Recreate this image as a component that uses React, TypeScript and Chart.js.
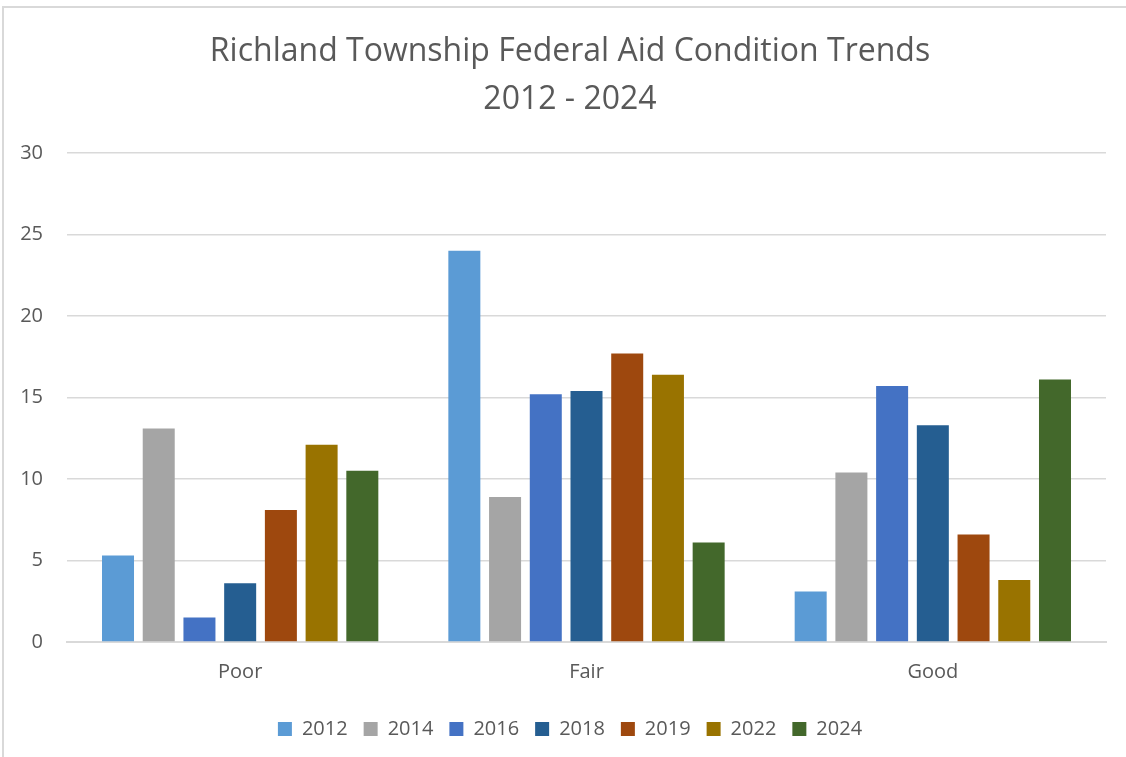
import React, { useEffect, useRef } from "react";
import { Chart, registerables } from "chart.js";

Chart.register(...registerables);

const categories = ["Poor", "Fair", "Good"];
const seriesNames = ["2012", "2014", "2016", "2018", "2019", "2022", "2024"];
const v2012 = [5.3, 24.0, 3.1];
const v2014 = [13.1, 8.9, 10.4];
const v2016 = [1.5, 15.2, 15.7];
const v2018 = [3.6, 15.4, 13.3];
const v2019 = [8.1, 17.7, 6.6];
const v2022 = [12.1, 16.4, 3.8];
const v2024 = [10.5, 6.1, 16.1];
const seriesValues = [v2012, v2014, v2016, v2018, v2019, v2022, v2024];
const seriesColors = ["#5B9BD5", "#A5A5A5", "#4472C4", "#255E91", "#9E480E", "#997300", "#43682B"];
const titleLines = ["Richland Township Federal Aid Condition Trends", "2012 - 2024"];
const yMin = 0;
const yMax = 30;
const yStep = 5;

const FONT = "'Open Sans', 'DejaVu Sans', sans-serif";
const TEXT = "#595959";
const GRID = "#d9d9d9";
const CENTER_SHIFT = 17;

const shiftPlugin = {
  id: "shiftTitleLegend",
  afterLayout(chart: any) {
    const boxes = [chart.legend, chart.titleBlock];
    boxes.forEach((b: any) => {
      if (b) {
        b.left += CENTER_SHIFT;
        b.right += CENTER_SHIFT;
      }
    });
  },
};

export default function App() {
  const ref = useRef<HTMLCanvasElement | null>(null);
  useEffect(() => {
    if (!ref.current) return;
    const chart = new Chart(ref.current, {
      type: "bar",
      data: {
        labels: categories,
        datasets: seriesNames.map((name, i) => ({
          label: name,
          data: seriesValues[i],
          backgroundColor: seriesColors[i],
          borderWidth: 0,
          categoryPercentage: 0.823,
          barPercentage: 0.786,
        })),
      },
      plugins: [shiftPlugin],
      options: {
        responsive: false,
        animation: false,
        devicePixelRatio: 1,
        layout: { padding: { left: 0, right: 20, top: 0, bottom: 9 } },
        plugins: {
          tooltip: { enabled: false },
          title: {
            display: true,
            text: titleLines,
            color: TEXT,
            font: { family: FONT, size: 32, weight: 400, lineHeight: 48 / 32 },
            padding: { top: 28, bottom: 29 },
          },
          legend: {
            position: "bottom",
            maxHeight: 45,
            labels: {
              color: TEXT,
              font: { family: FONT, size: 20 },
              boxWidth: 14,
              boxHeight: 14,
              padding: 16,
            },
          },
        },
        scales: {
          x: {
            grid: { display: false, drawTicks: false },
            border: { display: true, color: GRID, width: 2 },
            ticks: { color: TEXT, font: { family: FONT, size: 20, lineHeight: 0.95 }, padding: 21 },
          },
          y: {
            min: yMin,
            max: yMax,
            grid: { color: GRID, lineWidth: 1.5, drawTicks: false },
            border: { display: false },
            ticks: { stepSize: yStep, color: TEXT, font: { family: FONT, size: 20 }, padding: 24 },
            afterFit: (axis: any) => {
              axis.width = 67;
            },
          },
        },
      },
    });
    return () => chart.destroy();
  }, []);
  return (
    <div style={{ position: "fixed", left: 0, top: 0, width: 1126, height: 757, background: "#fff", overflow: "hidden" }}>
      <div style={{ position: "absolute", left: 2, top: 6, width: 1200, height: 800, borderLeft: `2px solid ${GRID}`, borderTop: `2px solid ${GRID}` }} />
      <canvas ref={ref} width={1126} height={757} style={{ position: "absolute", left: 0, top: 0, width: 1126, height: 757 }} />
    </div>
  );
}
